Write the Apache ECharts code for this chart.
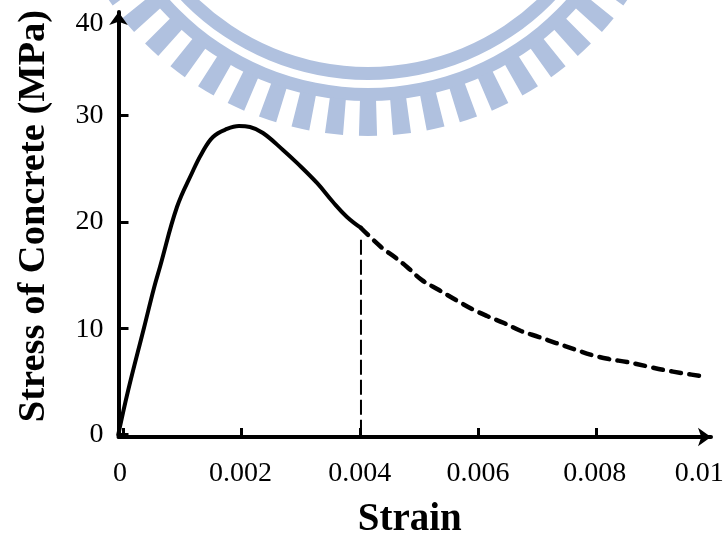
<!DOCTYPE html>
<html><head><meta charset="utf-8">
<style>html,body{margin:0;padding:0;background:#fff}#c{width:728px;height:536px}</style>
<script src="https://cdn.jsdelivr.net/npm/echarts@6/dist/echarts.min.js"></script>
</head><body><div id="c"></div>
<script>
const solidCurve = [[-0.00009,0],[0.000075,4.1],[0.000345,10.03],[0.000515,13.8],[0.000616,15.77],[0.000904,21.41],[0.001158,24.61],[0.001328,26.49],[0.001514,28.0],[0.001751,28.75],[0.001954,29.03],[0.00214,28.94],[0.00236,28.37],[0.002699,26.78],[0.002936,25.56],[0.003275,23.67],[0.003546,21.88],[0.003783,20.47],[0.00402,19.44]];
const dashedCurve = [[0.00402,19.44],[0.004359,17.65],[0.004613,16.61],[0.0048,15.77],[0.005053,14.54],[0.005341,13.6],[0.005629,12.66],[0.0059,11.82],[0.006154,11.16],[0.006442,10.5],[0.00673,9.75],[0.007035,9.18],[0.007323,8.62],[0.007627,8.05],[0.007932,7.49],[0.00822,7.11],[0.008525,6.83],[0.008847,6.45],[0.009152,6.08],[0.009457,5.79],[0.009778,5.51],[0.00988,5.42]];
const dropLine = [[0.00402,0],[0.00402,18.8]];
const xTicks = [0,0.002,0.004,0.006,0.008];
const yTicks = [0,10,20,30];
const xLabelAt = [-0.00006,0.00198,0.004,0.006,0.00798,0.00975];
const xLabelText = ['0','0.002','0.004','0.006','0.008','0.01'];
const yLabelAt = [0,9.9,20,30,38.7];
const yLabelText = ['0','10','20','30','40'];

const FONT = '"Liberation Serif","Times New Roman",serif';
const LOGO = '#B0C1DF';
const cx = 368, cy = -179;
const logo = [
  {type:'ring', z:-1, shape:{cx,cy,r:259,r0:246}, style:{fill:LOGO}},
  {type:'ring', z:-1, shape:{cx,cy,r:280,r0:267}, style:{fill:LOGO}}
];
const pitch = 6.2*Math.PI/180, half = 1.65*Math.PI/180;
for (let k=-14;k<=14;k++){
  const a = Math.PI/2 - k*pitch;
  logo.push({type:'sector', z:-1, shape:{cx,cy,r:315,r0:279,startAngle:a-half,endAngle:a+half,clockwise:true}, style:{fill:LOGO}});
}

const chart = echarts.init(document.getElementById('c'), null, {renderer:'canvas'});
chart.setOption({
  animation:false,
  backgroundColor:'#fff',
  graphic:{elements:logo},
  grid:{left:118.5,right:17,top:12,bottom:99,containLabel:false,outerBoundsMode:'none'},
  xAxis:{
    type:'value', min:-0.000086, max:0.009947,
    splitLine:{show:false},
    axisLine:{show:true,onZero:false,lineStyle:{color:'#000',width:4},symbol:['none','arrow'],symbolSize:[14,13]},
    axisTick:{show:true,inside:true,length:9,customValues:xTicks,lineStyle:{color:'#000',width:3}},
    axisLabel:{customValues:xLabelAt,margin:23,color:'#000',fontFamily:FONT,fontSize:28,
      formatter:v=>xLabelText[xLabelAt.indexOf(v)]},
    name:'Strain',nameLocation:'middle',nameGap:63,
    nameTextStyle:{color:'#000',fontFamily:FONT,fontSize:39,fontWeight:'bold',padding:[0,10,0,0]}
  },
  yAxis:{
    type:'value', min:-0.22, max:39.75,
    splitLine:{show:false},
    axisLine:{show:true,onZero:false,lineStyle:{color:'#000',width:4},symbol:['none','arrow'],symbolSize:[14,13]},
    axisTick:{show:true,inside:true,length:10,customValues:yTicks,lineStyle:{color:'#000',width:3}},
    axisLabel:{customValues:yLabelAt,margin:15,color:'#000',fontFamily:FONT,fontSize:28,padding:[2,0,0,0],
      formatter:v=>yLabelText[yLabelAt.indexOf(v)]},
    name:'Stress of Concrete (MPa)',nameLocation:'middle',nameGap:65,
    nameTextStyle:{color:'#000',fontFamily:FONT,fontSize:38.5,fontWeight:'bold',padding:[0,0,0,17]}
  },
  series:[
    {name:'Measured',type:'line',data:solidCurve,showSymbol:false,clip:false,smooth:0.4,lineStyle:{color:'#000',width:4,cap:'round'}},
    {name:'Softening',type:'line',data:dashedCurve,showSymbol:false,clip:false,smooth:0.4,lineStyle:{color:'#000',width:4.5,type:[10,8.3],cap:'round'}},
    {name:'Limit',type:'line',data:dropLine,showSymbol:false,clip:false,lineStyle:{color:'#000',width:2,type:[15,5]}}
  ]
});
</script></body></html>
